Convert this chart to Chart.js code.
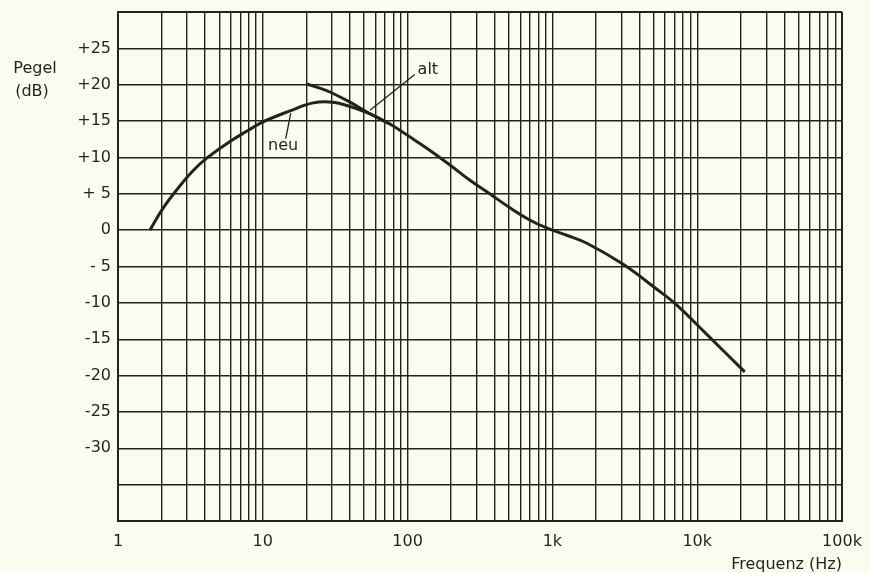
<!DOCTYPE html>
<html>
<head>
<meta charset="utf-8">
<script src="https://cdn.jsdelivr.net/npm/chart.js@4.4.1/dist/chart.umd.min.js"></script>
<style>
  html, body { margin: 0; padding: 0; background: #fbfbef; }
  canvas { display: block; }
</style>
</head>
<body>
<canvas id="pegelChart" width="870" height="573"></canvas>
<script>
// curve "neu" (Hz / dB)
const neuFreq = [1.66, 2.06, 2.68, 3.31, 4.1, 5.94, 7.74, 9.8, 15.4, 22.3, 30.5, 40, 55, 75.5, 104, 142, 195, 268, 369, 507, 697, 912, 1255, 1730, 3080, 5240, 7230, 11600, 21300];
const neuDb   = [0, 3.1, 6.1, 8.2, 9.9, 12.2, 13.6, 14.8, 16.4, 17.5, 17.6, 17.0, 16.0, 14.6, 12.8, 11.0, 9.0, 6.9, 5.0, 3.1, 1.4, 0.3, -0.7, -1.8, -4.7, -8.1, -10.3, -14.3, -19.5];

// curve "alt" (only differs below ~55 Hz)
const altFreq = [20.2, 25, 29.1, 40, 55, 75.5];
const altDb   = [20.1, 19.5, 19.0, 17.6, 16.0, 14.6];

// axis ticks
const xDecades = [1, 10, 100, 1000, 10000, 100000];
const xDecadeLabels = ['1', '10', '100', '1k', '10k', '100k'];
const yTickValues = [25, 20, 15, 10, 5, 0, -5, -10, -15, -20, -25, -30];
const yTickLabels = ['+25', '+20', '+15', '+10', '+ 5', '0', '- 5', '-10', '-15', '-20', '-25', '-30'];

// labels on the curves: [text, textX, textY, lineFromX, lineFromY, lineToX, lineToY]
const curveNotes = [
  ['alt', 138, 22.1, 112, 21.4, 55, 16.5],
  ['neu', 13.8, 11.6, 15.6, 16.1, 14.4, 12.6]
];

const ink = '#1f241d';
const fontFam = "'DejaVu Sans', 'Liberation Sans', sans-serif";

// every log grid line 1..9 per decade
const gridFreqs = [];
for (let d = 0; d < xDecades.length - 1; d++) {
  for (let m = 1; m < 10; m++) gridFreqs.push(xDecades[d] * m);
}
gridFreqs.push(xDecades[xDecades.length - 1]);

const toXY = (xs, ys) => xs.map((x, i) => ({ x: x, y: ys[i] }));

const sideText = {
  id: 'sideText',
  afterDraw(chart) {
    const ctx = chart.ctx;
    const sx = chart.scales.x, sy = chart.scales.y;
    ctx.save();
    ctx.fillStyle = ink;
    ctx.strokeStyle = ink;
    ctx.font = '16px ' + fontFam;
    ctx.textAlign = 'center';
    ctx.textBaseline = 'middle';
    ctx.fillText('Pegel', 35, 69);
    ctx.fillText('(dB)', 32, 92);
    ctx.lineWidth = 1.3;
    curveNotes.forEach(n => {
      ctx.fillText(n[0], sx.getPixelForValue(n[1]), sy.getPixelForValue(n[2]));
      ctx.beginPath();
      ctx.moveTo(sx.getPixelForValue(n[3]), sy.getPixelForValue(n[4]));
      ctx.lineTo(sx.getPixelForValue(n[5]), sy.getPixelForValue(n[6]));
      ctx.stroke();
    });
    ctx.restore();
  }
};

// keep the tick labels from pushing the plot frame around
function noLabelPadding(scale) {
  scale.paddingTop = 0;
  scale.paddingBottom = 0;
  scale.paddingLeft = 0;
  scale.paddingRight = 0;
}

new Chart(document.getElementById('pegelChart').getContext('2d'), {
  type: 'line',
  data: {
    datasets: [
      {
        label: 'neu',
        data: toXY(neuFreq, neuDb),
        borderColor: ink,
        borderWidth: 3,
        pointRadius: 0,
        tension: 0.4,
        fill: false
      },
      {
        label: 'alt',
        data: toXY(altFreq, altDb),
        borderColor: ink,
        borderWidth: 3,
        pointRadius: 0,
        tension: 0.4,
        fill: false
      }
    ]
  },
  options: {
    responsive: false,
    animation: false,
    layout: { padding: { top: 12, right: 28, bottom: 0, left: 0 } },
    plugins: {
      legend: { display: false },
      tooltip: { enabled: false }
    },
    scales: {
      x: {
        type: 'logarithmic',
        min: 1,
        max: 100000,
        afterBuildTicks(scale) {
          scale.ticks = gridFreqs.map(v => ({ value: v }));
        },
        afterFit(scale) {
          scale.height = 52;
          noLabelPadding(scale);
        },
        grid: {
          color: ink,
          lineWidth: ctx => (ctx.index === 0 || ctx.index === gridFreqs.length - 1) ? 2 : 1.4,
          drawTicks: false
        },
        border: { display: true, color: ink, width: 2 },
        ticks: {
          autoSkip: false,
          maxRotation: 0,
          padding: 11,
          color: ink,
          font: { family: fontFam, size: 16 },
          callback: v => {
            const i = xDecades.indexOf(v);
            return i >= 0 ? xDecadeLabels[i] : '';
          }
        },
        title: {
          display: true,
          text: 'Frequenz (Hz)',
          align: 'end',
          color: ink,
          font: { family: fontFam, size: 16, lineHeight: 1 },
          padding: { top: 0, bottom: 0 }
        }
      },
      y: {
        type: 'linear',
        min: -40,
        max: 30,
        afterFit(scale) {
          scale.width = 118;
          noLabelPadding(scale);
        },
        grid: {
          color: ink,
          lineWidth: ctx => (ctx.tick && (ctx.tick.value === 30 || ctx.tick.value === -40)) ? 2 : 1.4,
          drawTicks: false
        },
        border: { display: true, color: ink, width: 2 },
        ticks: {
          stepSize: 5,
          padding: 7,
          color: ink,
          font: { family: fontFam, size: 16 },
          callback: v => {
            const i = yTickValues.indexOf(v);
            return i >= 0 ? yTickLabels[i] : '';
          }
        }
      }
    }
  },
  plugins: [sideText]
});
</script>
</body>
</html>
